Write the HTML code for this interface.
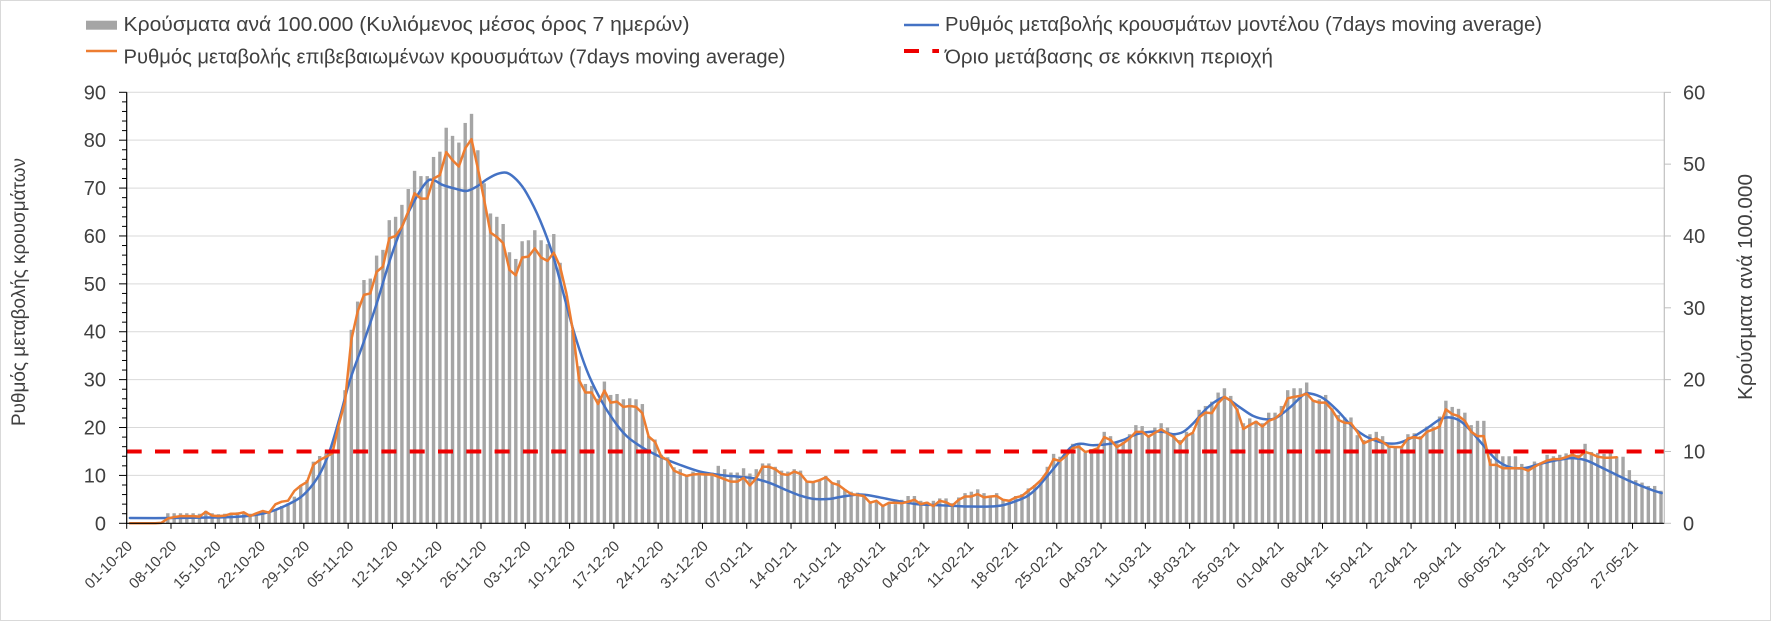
<!DOCTYPE html>
<html>
<head>
<meta charset="utf-8">
<style>
html,body{margin:0;padding:0;background:#fff;}
svg{display:block;}
text{font-family:"Liberation Sans","DejaVu Sans",sans-serif;fill:#404040;}
</style>
</head>
<body>
<svg id="c" xmlns="http://www.w3.org/2000/svg" width="1771" height="621" viewBox="0 0 1771 621">
<rect x="0.5" y="0.5" width="1770" height="620" fill="#fff" stroke="#d9d9d9" stroke-width="1"/>
<g id="grid" stroke="#d9d9d9" stroke-width="1"></g>
<g id="bars" fill="#a5a5a5"></g>
<g id="lines" fill="none" stroke-width="2.5" stroke-linejoin="round" stroke-linecap="round"></g>
<line x1="126.7" y1="451.45" x2="1664" y2="451.45" stroke="#ee0000" stroke-width="4" stroke-dasharray="15 13.3"/>
<g id="axes" stroke="#000" stroke-width="1"></g>
<line x1="126.7" y1="92.3" x2="126.7" y2="523.8" stroke="#000" stroke-width="1.2"/>
<line x1="126.2" y1="523.3" x2="1664.3" y2="523.3" stroke="#000" stroke-width="1.2"/>
<line x1="1664.3" y1="92.3" x2="1664.3" y2="523.3" stroke="#bfbfbf" stroke-width="1.2"/>

<!-- legend -->
<rect x="86" y="20.7" width="31" height="9" fill="#a5a5a5"/>
<text x="123.5" y="31" font-size="20" textLength="566" lengthAdjust="spacingAndGlyphs">Κρούσματα ανά 100.000 (Κυλιόμενος μέσος όρος 7 ημερών)</text>
<line x1="86" y1="51" x2="117" y2="51" stroke="#ed7d31" stroke-width="2.5"/>
<text x="123.5" y="63.5" font-size="20" textLength="662" lengthAdjust="spacingAndGlyphs">Ρυθμός μεταβολής επιβεβαιωμένων κρουσμάτων (7days moving average)</text>
<line x1="904" y1="25" x2="939" y2="25" stroke="#4472c4" stroke-width="2.5"/>
<text x="945" y="31" font-size="20" textLength="597" lengthAdjust="spacingAndGlyphs">Ρυθμός μεταβολής κρουσμάτων μοντέλου (7days moving average)</text>
<line x1="904" y1="51" x2="939" y2="51" stroke="#ee0000" stroke-width="4" stroke-dasharray="15 13.3"/>
<text x="945" y="63.5" font-size="20" textLength="328" lengthAdjust="spacingAndGlyphs">Όριο μετάβασης σε κόκκινη περιοχή</text>

<!-- left axis labels -->
<g font-size="20" text-anchor="end">
<text x="106" y="99.3">90</text>
<text x="106" y="147.2">80</text>
<text x="106" y="195.1">70</text>
<text x="106" y="243">60</text>
<text x="106" y="290.9">50</text>
<text x="106" y="338.7">40</text>
<text x="106" y="386.6">30</text>
<text x="106" y="434.5">20</text>
<text x="106" y="482.4">10</text>
<text x="106" y="530.3">0</text>
</g>
<!-- right axis labels -->
<g font-size="20">
<text x="1683" y="99.3">60</text>
<text x="1683" y="171.1">50</text>
<text x="1683" y="243">40</text>
<text x="1683" y="314.8">30</text>
<text x="1683" y="386.6">20</text>
<text x="1683" y="458.5">10</text>
<text x="1683" y="530.3">0</text>
</g>
<!-- axis titles -->
<text transform="translate(25,426) rotate(-90)" font-size="19.5" textLength="268" lengthAdjust="spacingAndGlyphs">Ρυθμός μεταβολής κρουσμάτων</text>
<text transform="translate(1752,400) rotate(-90)" font-size="20" textLength="226" lengthAdjust="spacingAndGlyphs">Κρούσματα ανά 100.000</text>

<!-- x labels -->
<g font-size="15" text-anchor="end">
<text transform="translate(133.2,547) rotate(-45)">01-10-20</text>
<text transform="translate(177.5,547) rotate(-45)">08-10-20</text>
<text transform="translate(221.8,547) rotate(-45)">15-10-20</text>
<text transform="translate(266.1,547) rotate(-45)">22-10-20</text>
<text transform="translate(310.4,547) rotate(-45)">29-10-20</text>
<text transform="translate(354.7,547) rotate(-45)">05-11-20</text>
<text transform="translate(398.9,547) rotate(-45)">12-11-20</text>
<text transform="translate(443.2,547) rotate(-45)">19-11-20</text>
<text transform="translate(487.5,547) rotate(-45)">26-11-20</text>
<text transform="translate(531.8,547) rotate(-45)">03-12-20</text>
<text transform="translate(576.1,547) rotate(-45)">10-12-20</text>
<text transform="translate(620.4,547) rotate(-45)">17-12-20</text>
<text transform="translate(664.7,547) rotate(-45)">24-12-20</text>
<text transform="translate(709.0,547) rotate(-45)">31-12-20</text>
<text transform="translate(753.3,547) rotate(-45)">07-01-21</text>
<text transform="translate(797.5,547) rotate(-45)">14-01-21</text>
<text transform="translate(841.8,547) rotate(-45)">21-01-21</text>
<text transform="translate(886.1,547) rotate(-45)">28-01-21</text>
<text transform="translate(930.4,547) rotate(-45)">04-02-21</text>
<text transform="translate(974.7,547) rotate(-45)">11-02-21</text>
<text transform="translate(1019.0,547) rotate(-45)">18-02-21</text>
<text transform="translate(1063.3,547) rotate(-45)">25-02-21</text>
<text transform="translate(1107.6,547) rotate(-45)">04-03-21</text>
<text transform="translate(1151.9,547) rotate(-45)">11-03-21</text>
<text transform="translate(1196.1,547) rotate(-45)">18-03-21</text>
<text transform="translate(1240.4,547) rotate(-45)">25-03-21</text>
<text transform="translate(1284.7,547) rotate(-45)">01-04-21</text>
<text transform="translate(1329.0,547) rotate(-45)">08-04-21</text>
<text transform="translate(1373.3,547) rotate(-45)">15-04-21</text>
<text transform="translate(1417.6,547) rotate(-45)">22-04-21</text>
<text transform="translate(1461.9,547) rotate(-45)">29-04-21</text>
<text transform="translate(1506.2,547) rotate(-45)">06-05-21</text>
<text transform="translate(1550.5,547) rotate(-45)">13-05-21</text>
<text transform="translate(1594.7,547) rotate(-45)">20-05-21</text>
<text transform="translate(1639.0,547) rotate(-45)">27-05-21</text>
</g>
</svg>
<script>
(function(){
var NS='http://www.w3.org/2000/svg';
var X0=126.7,S=6.327,Y0=523.3,K=4.789;
function xd(d){return X0+(d+0.5)*S;}
function yv(v){return Y0-v*K;}
function add(g,tag,a){var e=document.createElementNS(NS,tag);for(var k in a)e.setAttribute(k,a[k]);document.getElementById(g).appendChild(e);return e;}
var k,y;
for(k=1;k<=9;k++){y=yv(k*10).toFixed(2);add('grid','line',{x1:X0,x2:1664.3,y1:y,y2:y});}
var B=[0,0,0,0,0,0,
2.1,2.1,2.1,2.1,2.1,2.0,2.6,2.1,1.9,2.0,2.2,2.3,2.2,2.0,
2.2,2.6,2.4,2.8,3.61,4.17,5.56,8.0,9.04,12.87,14.05,14.6,15.3,20.2,27.8,40.4,46.3,50.8,51.1,55.9,57.1,63.3,64.0,66.5,69.8,73.6,72.5,72.5,76.5,77.6,82.6,80.9,79.5,83.6,85.5,77.9,71,64.7,64.0,62.5,56.6,55.2,58.9,59.1,
61.2,59.1,58.3,60.4,54.4,47.5,40.4,32.8,29.1,28.7,26,29.6,26.8,27.0,25.9,26.1,25.9,24.9,18.2,17.5,14.3,13.8,11.7,11.3,10.1,10.8,10.6,10.4,10.6,12.0,11.3,10.6,10.6,11.5,10.4,11.3,12.5,12.5,11.8,11.0,10.8,11.3,
11.0,8.7,8.5,9.0,9.9,8.4,9.0,7.1,6.6,6.4,5.9,4.2,4.7,3.6,4.2,4.0,4.9,5.7,5.7,4.7,4.5,4.7,5.2,5.2,4.2,5.4,6.3,6.6,7.1,6.3,5.6,6.3,5.1,4.9,5.7,6.1,7.3,8.0,9.0,11.8,14.5,13.9,
14.6,16.6,16.8,14.8,15.5,15.7,19.1,18.2,16.7,17.0,18.6,20.5,20.3,18.4,20.0,20.9,20.0,18.4,17.4,19.1,18.8,23.7,24.5,25.4,27.3,28.2,26.6,24.0,20.9,21.9,21.4,20.9,23.1,23.1,24.5,27.8,28.2,28.2,29.4,25.7,25.9,26.8,24.0,22.6,22.1,22.1,18.4,
17.4,18.6,19.1,18.2,16.1,16.1,16.0,18.6,18.8,18.2,20.2,20.2,22.3,25.6,24.3,23.9,23.1,20.5,21.4,21.4,13.5,14.8,14.0,14.0,14.0,12.4,11.5,12.9,12.7,14.3,14.0,14.3,14.6,15.2,14.3,16.6,14.9,14.7,14.5,14.7,13.9,13.9,11.1,9.0,8.5,7.8,7.8,6.8];
for(var d=0;d<B.length;d++){if(B[d]>0){var h=B[d]*K;add('bars','rect',{x:(xd(d)-1.7).toFixed(2),y:(Y0-h).toFixed(2),width:3.4,height:h.toFixed(2)});}}
var P=[[129.9,1.1],[170,1.1],[210,1.2],[235,1.35],[250,1.6],[270,2.4],[293.3,4.5],[306.7,6.6],[320,10.4],[330,15.3],[340,22.3],[350,29.9],[363.3,37.6],[376.7,45.9],[390,55.0],[403.3,62.6],[416.7,68.2],[426.7,71.3],[433.3,71.7],[443.3,70.6],[456.7,69.8],[466.7,69.4],[476.7,70.3],[486.7,71.8],[496.7,72.9],[506.7,73.2],[516.7,71.7],[526.7,68.9],[540,63.3],[553.3,55.7],[573.3,40.4],[586.7,32.0],[600,26.1],[613.3,21.6],[626.7,18.2],[643.3,15.7],[660,13.9],[680,12.2],[700,10.8],[720,10.1],[740,9.7],[753.3,9.4],[770,8.4],[786.7,6.9],[800,5.8],[813.3,5.1],[830,5.1],[840,5.5],[856.7,6.0],[866.7,5.9],[880,5.4],[896.7,4.7],[916.7,4.0],[936.7,3.8],[956.7,3.6],[970,3.5],[990,3.5],[1003.3,3.8],[1016.7,4.7],[1026.7,5.6],[1036.7,7.3],[1046.7,9.7],[1056.7,12.2],[1070,15.7],[1080,16.6],[1093.3,16.3],[1110,16.6],[1123.3,17.4],[1136.7,18.6],[1150,19.1],[1163.3,19.1],[1173.3,18.6],[1183.3,19.1],[1193.3,20.9],[1206.7,24.0],[1220,26.0],[1226.7,26.1],[1240,24.2],[1253.3,22.4],[1266.7,21.7],[1276.7,22.1],[1290,24.2],[1303.3,26.8],[1310,27.1],[1323.3,26.1],[1336.7,23.7],[1350,20.7],[1360,18.9],[1370,17.7],[1383.3,16.8],[1396.7,16.7],[1410,17.7],[1426.7,19.8],[1440,21.7],[1450,22.1],[1460,21.4],[1470,19.5],[1483.3,16.3],[1496.7,13.2],[1510,11.7],[1523.3,11.5],[1536.7,12.2],[1550,12.9],[1563.3,13.4],[1573.3,13.6],[1586.7,13.1],[1600,11.8],[1616.7,10.1],[1633.3,8.5],[1650,7.1],[1661.7,6.3]];
var s='M'+P[0][0]+' '+yv(P[0][1]).toFixed(2);
for(var i=0;i<P.length-1;i++){
 var p0=P[i>0?i-1:0],p1=P[i],p2=P[i+1],p3=P[i+2<P.length?i+2:P.length-1];
 var c1x=p1[0]+(p2[0]-p0[0])/6,c1y=yv(p1[1])+(yv(p2[1])-yv(p0[1]))/6;
 var c2x=p2[0]-(p3[0]-p1[0])/6,c2y=yv(p2[1])-(yv(p3[1])-yv(p1[1]))/6;
 s+=' C'+c1x.toFixed(2)+' '+c1y.toFixed(2)+' '+c2x.toFixed(2)+' '+c2y.toFixed(2)+' '+p2[0]+' '+yv(p2[1]).toFixed(2);
}
add('lines','path',{d:s,stroke:'#4472c4'});
var O=[0,0,0,0,0,0.1,1.0,1.3,1.5,1.5,1.5,1.4,2.4,1.6,1.5,1.6,2.0,2.0,2.3,
1.52,2.09,2.57,2.22,3.96,4.51,4.72,6.75,7.86,8.63,12.2,13.2,13.9,14.6,20.5,25.4,38.3,44.2,47.7,48.0,52.5,53.6,59.5,60.0,61.9,65.1,68.9,67.8,67.8,72.0,72.7,77.5,75.8,74.5,78.3,80.2,74.1,67.5,60.7,59.8,58.5,52.9,51.8,55.5,55.7,
57.4,55.5,54.8,56.5,53.6,48.0,40.4,29.9,27.3,27.3,24.9,27.7,25.2,25.4,24.3,24.5,24.3,23.0,18.1,17.0,13.9,13.2,11.0,10.4,9.9,10.2,10.3,10.2,10.2,9.7,9.2,8.7,8.7,9.5,7.9,9.4,11.8,11.8,11.3,10.3,10.1,10.8,
10.3,8.7,8.6,9.0,9.6,8.4,8.0,7.0,6.1,5.9,5.7,4.3,4.7,3.6,4.3,4.3,4.2,4.5,4.9,4.0,4.3,3.6,4.7,4.4,3.7,4.9,5.6,5.6,6.1,5.4,5.6,5.7,4.9,4.7,5.4,5.7,6.8,7.8,9.0,10.8,13.4,13.0,14.1,
15.7,16.0,14.9,15.2,15.7,18.0,17.4,15.9,16.7,17.7,19.1,19.1,18.1,18.9,19.6,18.8,18.0,16.6,18.2,18.9,22.1,23.1,23.0,25.1,26.4,25.6,23.7,19.7,20.5,21.2,20.2,21.4,21.9,23.0,26.1,26.4,26.6,27.1,25.6,25.2,25.2,23.7,21.6,21.0,20.9,19.1,
16.7,17.3,17.7,17.0,16.0,15.9,15.9,17.7,18.0,17.7,19.1,19.6,20.2,23.8,22.8,22.4,21.4,19.1,18.2,18.2,12.2,12.2,11.5,11.5,11.5,11.5,11.0,11.8,12.5,13.1,13.4,13.4,13.8,14.3,13.8,14.9,14.5,13.9,13.7,13.7,13.8];
var pts=[];for(d=0;d<O.length;d++){pts.push(xd(d).toFixed(2)+','+yv(O[d]).toFixed(2));}
add('lines','polyline',{points:pts.join(' '),stroke:'#ed7d31'});
for(k=0;k<=34;k++){var x=(X0+7*k*S).toFixed(2);add('axes','line',{x1:x,x2:x,y1:523.3,y2:528.8});}
for(k=0;k<=9;k++){y=yv(10*k).toFixed(2);add('axes','line',{x1:119,x2:126.7,y1:y,y2:y});}
for(var v=2;v<90;v+=2){if(v%10){y=yv(v).toFixed(2);add('axes','line',{x1:122,x2:126.7,y1:y,y2:y});}}
for(k=0;k<=6;k++){y=(Y0-k*71.83).toFixed(2);add('axes','line',{x1:1664.3,x2:1671,y1:y,y2:y,stroke:'#bfbfbf'});}
})();
</script>
</body>
</html>
